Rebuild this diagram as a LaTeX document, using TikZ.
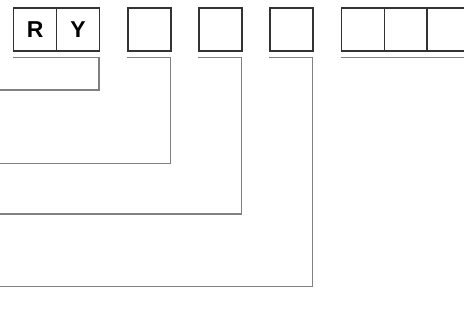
\documentclass[tikz,border=0pt]{standalone}
\usepackage{fontspec}
\setmainfont{Liberation Sans}
\begin{document}
\begin{tikzpicture}[x=1pt,y=-1pt,
  cell/.style={draw=black!80,line width=1.3pt,minimum width=43pt,minimum height=43pt,inner sep=0pt,anchor=north west,font=\fontsize{23}{23}\selectfont\bfseries},
  lead/.style={draw=black!50,line width=1.4pt}]
\useasboundingbox (0,0) rectangle (464,331);
% boxes
\node[cell] (r) at (13,7.3) {R};
\node[cell] (y) at (56,7.3) {Y};
\node[cell] (b2) at (127.3,7.3) {};
\node[cell] (b3) at (198.3,7.3) {};
\node[cell] (b4) at (269.3,7.3) {};
\node[cell] (c1) at (340.7,7.3) {};
\node[cell] (c2) at (383.5,7.3) {};
\node[cell] (c3) at (426.3,7.3) {};
% leader coordinates
\coordinate (a1) at (13,57.3);
\coordinate (a2) at (99,57.3);
\coordinate (a3) at (99,90);
\coordinate (a4) at (0,90);
\coordinate (b2a) at (127.3,57.3);
\coordinate (b2b) at (170.3,57.3);
\coordinate (b2c) at (170.3,163.3);
\coordinate (b2d) at (0,163.3);
\coordinate (b3a) at (198.3,57.3);
\coordinate (b3b) at (241.3,57.3);
\coordinate (b3c) at (241.3,214);
\coordinate (b3d) at (0,214);
\coordinate (b4a) at (269.3,57.3);
\coordinate (b4b) at (312.3,57.3);
\coordinate (b4c) at (312.3,286.7);
\coordinate (b4d) at (0,286.7);
\coordinate (ca) at (340.7,57.3);
\coordinate (cb) at (464,57.3);
\draw[lead] (a1) -- (a2) -- (a3) -- (a4);
\draw[lead] (b2a) -- (b2b) -- (b2c) -- (b2d);
\draw[lead] (b3a) -- (b3b) -- (b3c) -- (b3d);
\draw[lead] (b4a) -- (b4b) -- (b4c) -- (b4d);
\draw[lead] (ca) -- (cb);
\end{tikzpicture}
\end{document}
